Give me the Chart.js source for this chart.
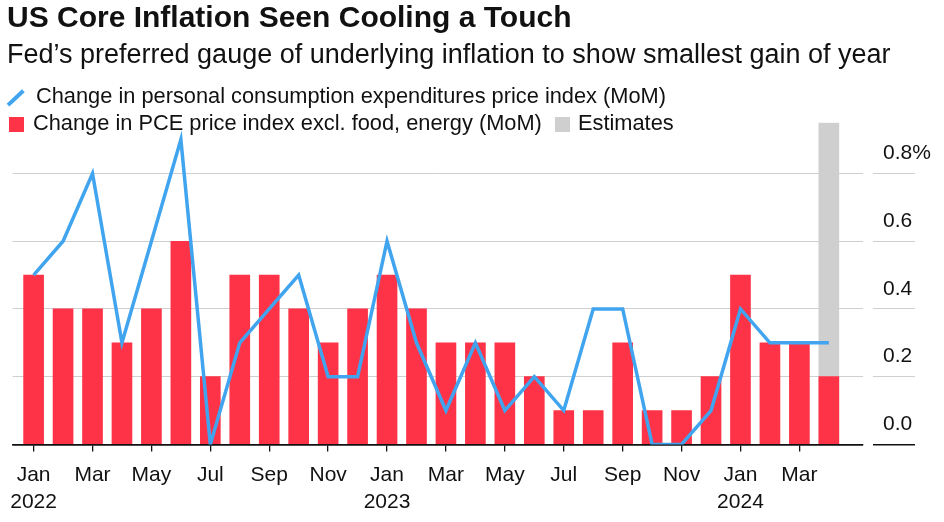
<!DOCTYPE html>
<html>
<head>
<meta charset="utf-8">
<script src="https://cdn.jsdelivr.net/npm/chart.js@4.4.1/dist/chart.umd.min.js"></script>
<style>
  html, body { margin: 0; padding: 0; background: #fff; }
  body { width: 944px; height: 522px; position: relative; overflow: hidden;
         font-family: "Liberation Sans", Arial, sans-serif; color: #111; }
  .txt { position: absolute; white-space: nowrap; }
  #title { left: 7px; top: 2px; font-size: 30px; line-height: 30px; font-weight: 700; }
  #subtitle { left: 7px; top: 40.5px; font-size: 27px; line-height: 27px; }
  .leg { font-size: 21.8px; line-height: 22px; }
  .swatch { position: absolute; width: 15px; height: 15px; }
  #slash { position: absolute; left: 5px; top: 95.5px; width: 21px; height: 3.5px;
           background: #41a4ef; transform: rotate(-43deg); }
  /* canvas a bit taller than the page so the x labels sit where the original has them */
  #wrap { position: absolute; left: 0; top: 0; width: 944px; height: 526px; }
</style>
</head>
<body>
<div id="wrap"><canvas id="pceChart"></canvas></div>

<div id="title" class="txt">US Core Inflation Seen Cooling a Touch</div>
<div id="subtitle" class="txt">Fed’s preferred gauge of underlying inflation to show smallest gain of year</div>

<!-- custom legend, two rows like the original -->
<div id="slash"></div>
<div class="txt leg" style="left:36px; top:85px;">Change in personal consumption expenditures price index (MoM)</div>
<div class="swatch" style="left:9px; top:117px; background:#ff3347;"></div>
<div class="txt leg" style="left:33px; top:111.5px;">Change in PCE price index excl. food, energy (MoM)</div>
<div class="swatch" style="left:555px; top:117px; background:#cfcfcf;"></div>
<div class="txt leg" style="left:578px; top:111.5px;">Estimates</div>

<script>
// months shown on the x axis (Jan 2022 .. Apr 2024)
const months = [
  'Jan 2022', 'Feb 2022', 'Mar 2022', 'Apr 2022', 'May 2022', 'Jun 2022',
  'Jul 2022', 'Aug 2022', 'Sep 2022', 'Oct 2022', 'Nov 2022', 'Dec 2022',
  'Jan 2023', 'Feb 2023', 'Mar 2023', 'Apr 2023', 'May 2023', 'Jun 2023',
  'Jul 2023', 'Aug 2023', 'Sep 2023', 'Oct 2023', 'Nov 2023', 'Dec 2023',
  'Jan 2024', 'Feb 2024', 'Mar 2024', 'Apr 2024'
];

// core PCE, MoM % (red bars)
const coreMoM = [
  0.5, 0.4, 0.4, 0.3, 0.4, 0.6, 0.2, 0.5, 0.5, 0.4, 0.3, 0.4,
  0.5, 0.4, 0.3, 0.3, 0.3, 0.2, 0.1, 0.1, 0.3, 0.1, 0.1, 0.2,
  0.5, 0.3, 0.3, 0.2
];

// headline PCE, MoM % (blue line)
const headlineMoM = [
  0.5, 0.6, 0.8, 0.3, 0.6, 0.9, 0.0, 0.3, 0.4, 0.5, 0.2, 0.2,
  0.6, 0.3, 0.1, 0.3, 0.1, 0.2, 0.1, 0.4, 0.4, 0.0, 0.0, 0.1,
  0.4, 0.3, 0.3, 0.3
];

// grey "Estimates" band: month and how high it reaches
const estimateMonths = ['Apr 2024'];
const estimateTop = [0.95];

// axis ticks
const xTickMonths = months.filter((m, i) => i % 2 === 0 && i <= 26);
const yTicks = [0, 0.2, 0.4, 0.6, 0.8];

const RED = '#ff3347';
const BLUE = '#41a4ef';
const GREY = '#cfcfcf';

const toPoints = (vals) => vals.map((v, i) => ({ x: i, y: v }));

const ctx = document.getElementById('pceChart').getContext('2d');

const chart = new Chart(ctx, {
  type: 'bar',
  data: {
    datasets: [
      {
        type: 'line',
        label: 'Change in personal consumption expenditures price index (MoM)',
        data: toPoints(headlineMoM),
        borderColor: BLUE,
        borderWidth: 3.5,
        borderJoinStyle: 'miter',
        pointRadius: 0,
        tension: 0,
        order: 0
      },
      {
        label: 'Change in PCE price index excl. food, energy (MoM)',
        data: toPoints(coreMoM),
        backgroundColor: RED,
        barThickness: 20,
        grouped: false,
        order: 1
      },
      {
        label: 'Estimates',
        data: estimateMonths.map((m, i) => ({ x: months.indexOf(m), y: estimateTop[i] })),
        backgroundColor: GREY,
        barThickness: 20,
        grouped: false,
        order: 2
      }
    ]
  },
  options: {
    responsive: true,
    maintainAspectRatio: false,
    animation: false,
    layout: { padding: { top: 122.7, left: 10, right: 13, bottom: 0 } },
    plugins: {
      legend: { display: false },
      tooltip: { enabled: false }
    },
    scales: {
      x: {
        type: 'linear',
        offset: false,
        min: -0.71,
        max: 28.16,
        afterBuildTicks: (scale) => {
          scale.ticks = xTickMonths.map(m => ({ value: months.indexOf(m) }));
        },
        grid: { offset: false, drawOnChartArea: false, tickLength: 7, color: '#111', lineWidth: 1.3 },
        border: { display: true, color: '#111', width: 1.5 },
        ticks: {
          padding: 10,
          color: '#111',
          font: { family: '"Liberation Sans", Arial, sans-serif', size: 21, lineHeight: 1.3 },
          maxRotation: 0,
          autoSkip: false,
          callback: (v) => {
            const [m, y] = months[v].split(' ');
            return m === 'Jan' ? [m, y] : m;
          }
        }
      },
      y: {
        position: 'right',
        min: 0,
        max: 0.95,
        afterBuildTicks: (scale) => {
          scale.ticks = yTicks.map(v => ({ value: v }));
        },
        afterFit: (scale) => { scale.width = 68; },
        border: { display: false },
        grid: {
          color: (c) => (c.tick && c.tick.value === 0 ? '#111' : '#cfcfcf'),
          lineWidth: (c) => (c.tick && c.tick.value === 0 ? 1.5 : 1),
          tickLength: 52,
          tickBorderDash: [0, 10, 42, 10]
        },
        ticks: {
          padding: -32,
          labelOffset: -20,
          color: '#111',
          font: { family: '"Liberation Sans", Arial, sans-serif', size: 21 },
          callback: (v) => (v === 0.8 ? v.toFixed(1) + '%' : v.toFixed(1))
        }
      }
    }
  }
});
</script>
</body>
</html>
